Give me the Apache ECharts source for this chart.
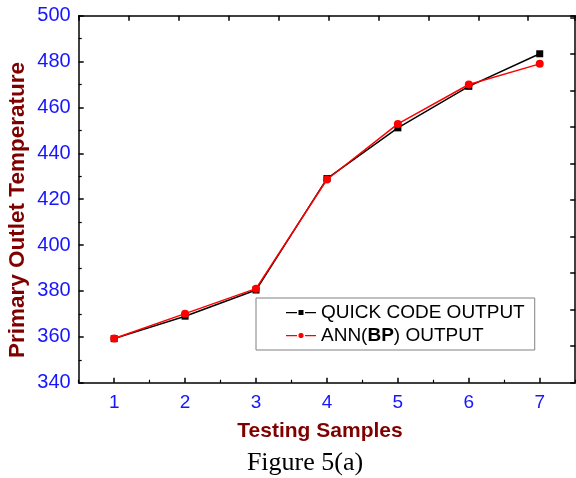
<!DOCTYPE html>
<html><head><meta charset="utf-8">
<script src="https://cdn.jsdelivr.net/npm/echarts@6/dist/echarts.min.js"></script>
<style>html,body{margin:0;padding:0;background:#fff}#c{width:576px;height:478px}</style>
</head><body><div id="c"></div>
<script>
var categories = ['1','2','3','4','5','6','7'];
var quickCode = [359.2, 369.0, 380.4, 429.0, 451.1, 469.2, 483.4];
var annBP = [359.3, 370.1, 381.0, 428.6, 452.8, 470.0, 479.0];
var yTicks = {min: 340, max: 500, interval: 20};
var seriesNames = ['QUICK CODE OUTPUT', 'ANN(BP) OUTPUT'];

var blue = '#1515ff', dred = '#800000';
var iconSquare = 'path://M0,3.4h11v1.3h-11z M12.5,1.5h5v5h-5z M19,3.4h11v1.3h-11z';
var iconCircle = 'path://M0,3.4h11v1.3h-11z M14,1.5h2l1.5,1.2v2.6l-1.5,1.2h-2l-1.5,-1.2v-2.6z M19,3.4h11v1.3h-11z';
var chart = echarts.init(document.getElementById('c'), null, {renderer: 'canvas'});
var frameLine = {show: true, lineStyle: {color: '#000', width: 1.5}};
chart.setOption({
  animation: false,
  backgroundColor: '#fff',
  grid: {left: 78.7, top: 15.7, right: 0.8, bottom: 95.3, containLabel: false},
  legend: {
    orient: 'vertical', left: 256, top: 298,
    padding: [5, 10, 5, 30],
    itemWidth: 30, itemHeight: 8, itemGap: 4,
    borderColor: '#808080', borderWidth: 1, backgroundColor: '#fff',
    data: [{name: seriesNames[0], icon: iconSquare}, {name: seriesNames[1], icon: iconCircle}],
    formatter: function (n) {
      if (n === seriesNames[1]) return '{n|ANN(}{b|BP}{n|) OUTPUT}';
      return '{n|' + n + '}';
    },
    textStyle: {
      fontFamily: 'Liberation Sans, Arial', fontSize: 19, color: '#000',
      rich: {
        n: {fontFamily: 'Liberation Sans, Arial', fontSize: 19, color: '#000'},
        b: {fontFamily: 'Liberation Sans, Arial', fontSize: 19, color: '#000', fontWeight: 'bold'}
      }
    }
  },
  xAxis: [
    {type: 'category', position: 'bottom', data: categories, boundaryGap: true,
     axisLine: frameLine,
     axisTick: {show: true, inside: true, alignWithLabel: true, length: 5, lineStyle: {color: '#000', width: 1.5}},
     axisLabel: {color: blue, fontFamily: 'Liberation Sans, Arial', fontSize: 19, margin: 11},
     splitLine: {show: false}},
    {type: 'category', position: 'bottom', data: categories, boundaryGap: true,
     axisLine: {show: false},
     axisTick: {show: true, inside: true, alignWithLabel: false, length: 3, lineStyle: {color: '#000', width: 1.2}},
     axisLabel: {show: false}, splitLine: {show: false}},
    {type: 'value', position: 'top', min: 0, max: 9.94, interval: 1,
     axisLine: frameLine,
     axisTick: {show: true, inside: true, length: 5, lineStyle: {color: '#000', width: 1.5}},
     axisLabel: {show: false}, splitLine: {show: false}}
  ],
  yAxis: [
    {type: 'value', position: 'left', min: yTicks.min, max: yTicks.max, interval: yTicks.interval,
     axisLine: frameLine,
     axisTick: {show: true, inside: true, length: 5, lineStyle: {color: '#000', width: 1.5}},
     minorTick: {show: true, splitNumber: 2, length: 3, lineStyle: {color: '#000', width: 1.2}},
     axisLabel: {color: blue, fontFamily: 'Liberation Sans, Arial', fontSize: 20, margin: 8},
     splitLine: {show: false}, minorSplitLine: {show: false}},
    {type: 'value', position: 'right', min: 0, max: 10.05, interval: 1,
     axisLine: frameLine,
     axisTick: {show: true, inside: true, length: 5, lineStyle: {color: '#000', width: 1.5}},
     axisLabel: {show: false}, splitLine: {show: false}}
  ],
  series: [
    {name: seriesNames[0], type: 'line', xAxisIndex: 0, yAxisIndex: 0, data: quickCode,
     symbol: 'rect', symbolSize: 7, color: '#000',
     lineStyle: {color: '#000', width: 1.5}, itemStyle: {color: '#000'}, z: 3},
    {name: seriesNames[1], type: 'line', xAxisIndex: 0, yAxisIndex: 0, data: annBP,
     symbol: 'circle', symbolSize: 8, color: '#ff0000',
     lineStyle: {color: '#ff0000', width: 1.5}, itemStyle: {color: '#ff0000'}, z: 4}
  ],
  graphic: [
    {type: 'text', x: 18, y: 210, rotation: Math.PI / 2,
     style: {text: 'Primary Outlet Temperature', fill: dred, font: 'bold 22.5px "Liberation Sans", Arial',
             align: 'center', verticalAlign: 'middle'}},
    {type: 'text', x: 320, y: 431,
     style: {text: 'Testing Samples', fill: dred, font: 'bold 21px "Liberation Sans", Arial',
             align: 'center', verticalAlign: 'middle'}},
    {type: 'text', x: 305, y: 463,
     style: {text: 'Figure 5(a)', fill: '#000', font: '26px "Liberation Serif", "Times New Roman", serif',
             align: 'center', verticalAlign: 'middle'}}
  ]
});
</script></body></html>
